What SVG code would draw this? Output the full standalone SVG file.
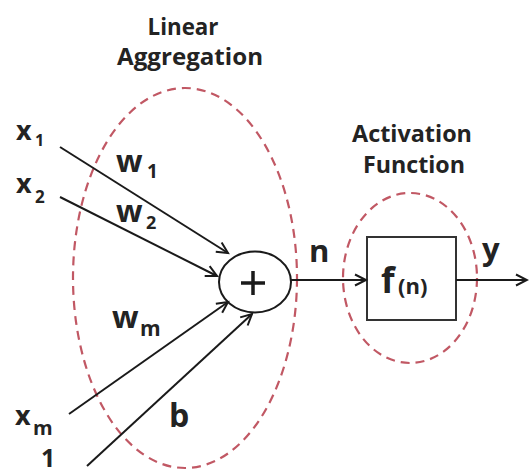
<svg xmlns="http://www.w3.org/2000/svg" width="529" height="475" viewBox="0 0 529 475">
<defs>
<style>
.t{font-family:"Open Sans","Liberation Sans",sans-serif;font-weight:bold;fill:#232323}
.cap{font-size:23px}
.ln{stroke:#1a1a1a;stroke-width:2;fill:none}
.grp{fill:none;stroke:#c15864;stroke-width:2.2;stroke-dasharray:9 6}
</style>
<marker id="ah" markerUnits="userSpaceOnUse" markerWidth="16" markerHeight="16" refX="12" refY="6" orient="auto" viewBox="0 0 16 12">
<path d="M1,0.5 L12,6 L1,11.5" fill="none" stroke="#1a1a1a" stroke-width="2"/>
</marker>
</defs>
<rect width="529" height="475" fill="#ffffff"/>

<g id="group-linear">
<ellipse class="grp" cx="185" cy="278" rx="112" ry="190"/>
<text class="t cap" x="183" y="35" text-anchor="middle" textLength="71" lengthAdjust="spacingAndGlyphs">Linear</text>
<text class="t cap" x="190" y="65" text-anchor="middle" textLength="146" lengthAdjust="spacingAndGlyphs">Aggregation</text>
</g>

<g id="group-activation">
<ellipse class="grp" cx="410" cy="278" rx="67" ry="85"/>
<text class="t cap" x="412" y="142" text-anchor="middle" textLength="120" lengthAdjust="spacingAndGlyphs">Activation</text>
<text class="t cap" x="414" y="173" text-anchor="middle" textLength="102" lengthAdjust="spacingAndGlyphs">Function</text>
</g>

<g id="inputs">
<text class="t" x="16" y="140" font-size="27">x</text>
<text class="t" x="35" y="146" font-size="16">1</text>
<text class="t" x="16" y="193" font-size="27">x</text>
<text class="t" x="35" y="203" font-size="17">2</text>
<text class="t" x="15" y="425" font-size="27">x</text>
<text class="t" x="33" y="435" font-size="20">m</text>
<text class="t" x="41" y="467" font-size="25">1</text>
</g>

<g id="weights">
<text class="t" x="116" y="172" font-size="31">w</text>
<text class="t" x="147" y="178" font-size="19">1</text>
<text class="t" x="116" y="222" font-size="31">w</text>
<text class="t" x="146" y="229" font-size="18">2</text>
<text class="t" x="112" y="328" font-size="31">w</text>
<text class="t" x="140" y="336" font-size="21">m</text>
<text class="t" x="169" y="427" font-size="32">b</text>
</g>

<g id="sum-node">
<ellipse cx="255" cy="282" rx="36" ry="30.5" fill="#ffffff" stroke="#1a1a1a" stroke-width="2"/>
<path d="M241,283 H265 M253,271 V295" stroke="#1a1a1a" stroke-width="3.5" fill="none"/>
</g>

<g id="activation-node">
<rect x="367" y="237" width="89" height="83" fill="#ffffff" stroke="#333333" stroke-width="2"/>
<text class="t" x="381" y="293" font-size="35">f</text>
<text class="t" x="398" y="294" font-size="22">(n)</text>
</g>

<g id="connectors">
<line class="ln" x1="60" y1="147" x2="228" y2="253" marker-end="url(#ah)"/>
<line class="ln" x1="60" y1="197" x2="217" y2="276" marker-end="url(#ah)"/>
<line class="ln" x1="69" y1="414" x2="228" y2="302" marker-end="url(#ah)"/>
<line class="ln" x1="87" y1="466" x2="252" y2="314" marker-end="url(#ah)"/>
<line class="ln" x1="291" y1="280" x2="366" y2="280" marker-end="url(#ah)"/>
<line class="ln" x1="456" y1="280" x2="527" y2="280" marker-end="url(#ah)"/>
<text class="t" x="309" y="262" font-size="31">n</text>
<text class="t" x="482" y="260" font-size="31">y</text>
</g>
</svg>
